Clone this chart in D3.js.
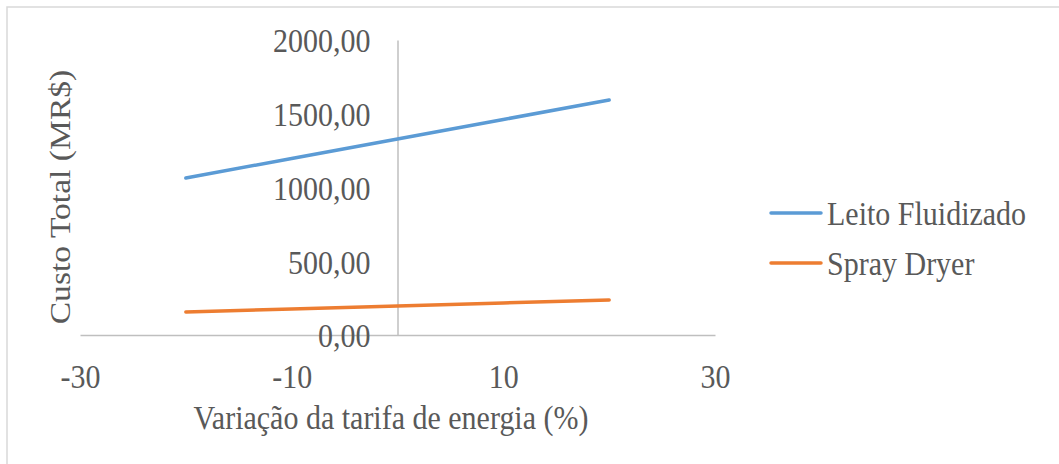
<!DOCTYPE html>
<html><head><meta charset="utf-8">
<script src="https://cdn.jsdelivr.net/npm/d3@7"></script>
<style>body{margin:0;background:#fff}svg{display:block}
svg text{font-family:"Liberation Serif","Times New Roman",serif;}
</style>
</head><body>
<svg id="c" width="1059" height="464"></svg>
<script>
const xValues = [-20, -10, 0, 10, 20];
const leitoFluidizado = [1064, 1197, 1329, 1461, 1593];
const sprayDryer = [156, 176, 197, 217, 237];
const seriesNames = ["Leito Fluidizado", "Spray Dryer"];
const seriesColors = ["#5b9bd5", "#ed7d31"];
const xTicks = [-30, -10, 10, 30];
const yTicks = [0, 500, 1000, 1500, 2000];

const svg = d3.select("#c");
const font = "Liberation Serif";
const textColor = "#595959";
const SY = 1.12; // vertical stretch of the original picture's text

// outer frame
svg.append("rect").attr("x",7).attr("y",7).attr("width",1070).attr("height",480)
  .attr("fill","none").attr("stroke","#d9d9d9").attr("stroke-width",1.5);

const x = d3.scaleLinear().domain([-30,30]).range([80,715]);
const y = d3.scaleLinear().domain([0,2000]).range([335,40]);

// x axis line at y=0
const xAxis = svg.append("g").attr("transform",`translate(0,${y(0)})`)
  .call(d3.axisBottom(x).tickValues(xTicks).tickSize(0).tickFormat(d => String(d)));
xAxis.select(".domain").attr("stroke","#bfbfbf").attr("stroke-width",1.5);
xAxis.selectAll("text").attr("font-family",font).attr("font-size",30).attr("fill",textColor)
  .attr("dy",null).attr("y",0).attr("transform",`translate(0,53) scale(1,${SY})`);

// y axis line at x=0
const yAxis = svg.append("g").attr("transform",`translate(${x(0)},0)`)
  .call(d3.axisLeft(y).tickValues(yTicks).tickSize(0)
    .tickFormat(d => d3.format(".2f")(d).replace(".", ",")));
yAxis.select(".domain").attr("stroke","#bfbfbf").attr("stroke-width",1.5);
yAxis.selectAll("text").attr("font-family",font).attr("font-size",30).attr("fill",textColor)
  .attr("x",0).attr("dy","0.35em").attr("transform",`translate(-27,0) scale(1,${SY})`);

// lines
const series = [leitoFluidizado, sprayDryer];
const line = d3.line().x((d,i)=>x(xValues[i])).y(d=>y(d));
series.forEach((s,k)=>{
  svg.append("path").datum(s).attr("d",line).attr("fill","none")
    .attr("stroke",seriesColors[k]).attr("stroke-width",3.5).attr("stroke-linecap","round");
});

// axis titles
svg.append("text").attr("transform",`translate(391,429) scale(1,${SY})`).attr("text-anchor","middle")
  .attr("font-family",font).attr("font-size",30).attr("fill",textColor)
  .text("Variação da tarifa de energia (%)");
svg.append("text").attr("transform",`translate(70,197) rotate(-90) scale(${SY},1)`).attr("text-anchor","middle")
  .attr("font-family",font).attr("font-size",30).attr("fill",textColor)
  .text("Custo Total (MR$)");

// legend
seriesNames.forEach((n,k)=>{
  const ly = 213 + k*50;
  svg.append("line").attr("x1",771).attr("x2",821).attr("y1",ly).attr("y2",ly)
    .attr("stroke",seriesColors[k]).attr("stroke-width",3.5).attr("stroke-linecap","round");
  svg.append("text").attr("transform",`translate(827,${ly}) scale(1,${SY})`).attr("dy","0.35em")
    .attr("font-family",font).attr("font-size",30).attr("fill",textColor).text(n);
});
</script>
</body></html>
